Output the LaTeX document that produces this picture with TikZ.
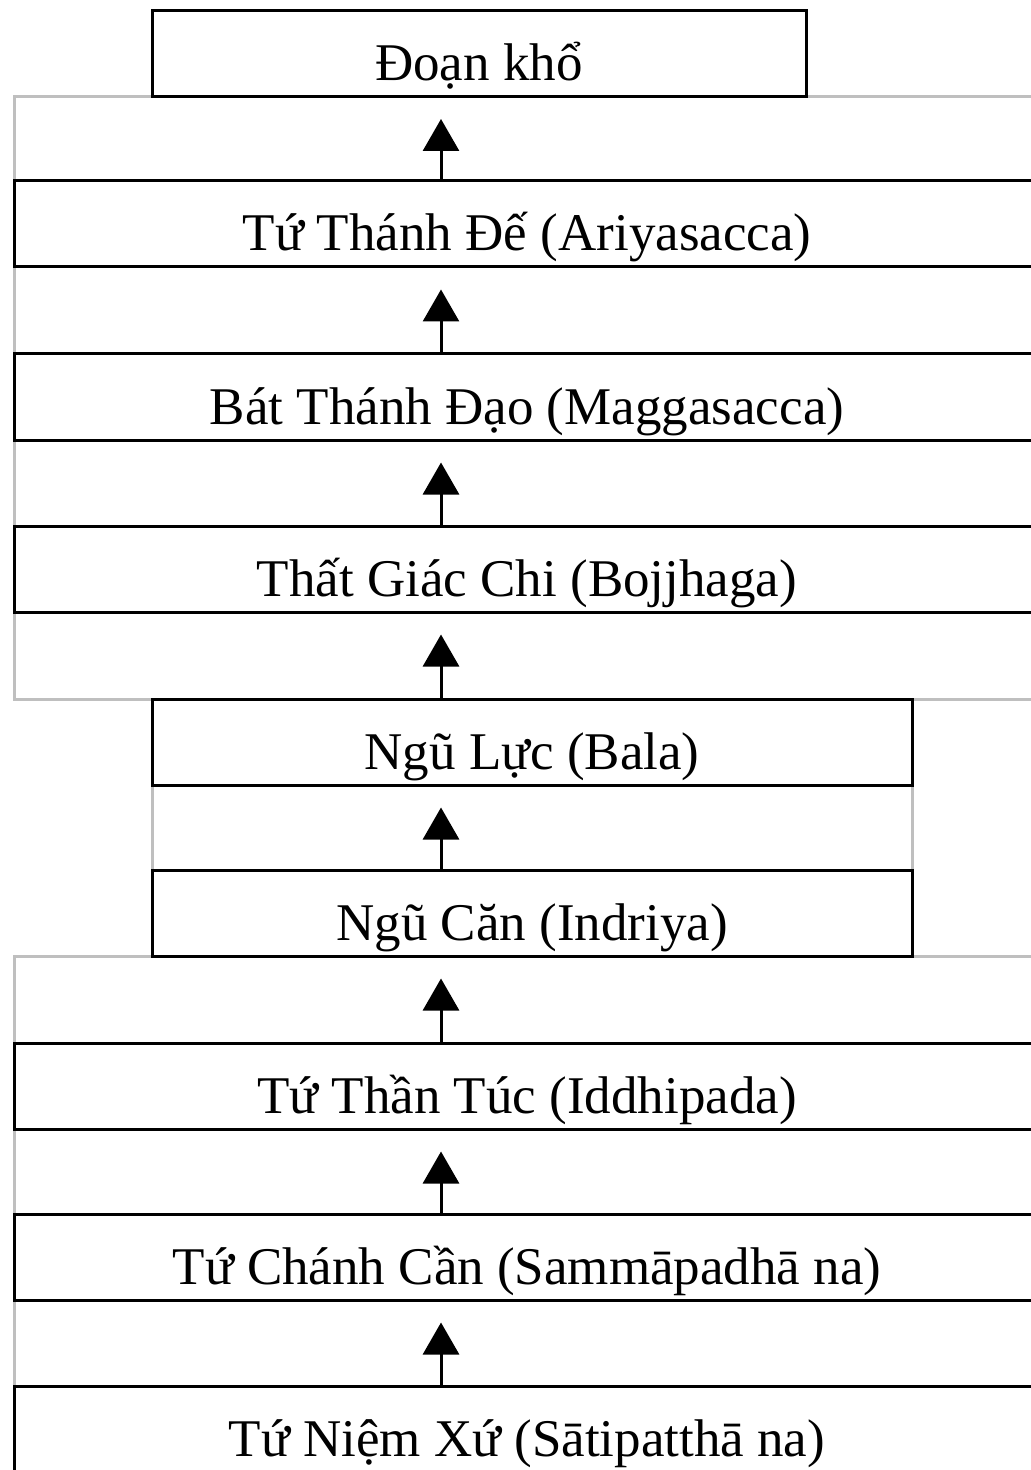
\documentclass[tikz,border=0pt]{standalone}
\usepackage{fontspec}
\setmainfont{Liberation Serif}
\usetikzlibrary{arrows.meta,calc}
\begin{document}
\begin{tikzpicture}[x=0.5pt,y=-0.5pt,
  box/.style={rectangle,draw=black,line width=1.5pt,fill=white,minimum height=43pt,inner sep=0pt,text height=27pt,text depth=0pt,font=\fontsize{26.5}{30}\selectfont},
  wide/.style={box,minimum width=513pt},
  narrow/.style={box,minimum width=380pt},
  frame/.style={draw=black!25,line width=1.5pt},
  up/.style={line width=1.5pt,-{Triangle[width=18pt,length=16pt]}}]
  \useasboundingbox (0,0) rectangle (1031,1470);
  \clip (0,0) rectangle (1031,1470);

  % grey table frames behind the rows
  \draw[frame] (14,97) rectangle (1040,699);
  \draw[frame] (152,699) rectangle (912,956);
  \draw[frame] (14,956) rectangle (1040,1480);

  \node[box,minimum width=327pt] (l0) at (479,53.5) {Đoạn khổ};
  \node[wide] (l1) at (527,224) {Tứ Thánh Đế (Ariyasacca)};
  \node[wide] (l2) at (527,397) {Bát Thánh Đạo (Maggasacca)};
  \node[wide] (l3) at (527,569) {Thất Giác Chi (Bojjhaga)};
  \node[narrow] (l4) at (532,742) {Ngũ Lực (Bala)};
  \node[narrow] (l5) at (532,913) {Ngũ Căn (Indriya)};
  \node[wide] (l6) at (527,1086) {Tứ Thần Túc (Iddhipada)};
  \node[wide] (l7) at (527,1257) {Tứ Chánh Cần (Sammāpadhā na)};
  \node[wide] (l8) at (527,1429) {Tứ Niệm Xứ (Sātipatthā na)};

  \coordinate (axis) at (441,0);

  \draw[up] (l1.north -| axis) -- ($(l0.south -| axis)+(0,21)$);
  \draw[up] (l2.north -| axis) -- ($(l1.south -| axis)+(0,21)$);
  \draw[up] (l3.north -| axis) -- ($(l2.south -| axis)+(0,21)$);
  \draw[up] (l4.north -| axis) -- ($(l3.south -| axis)+(0,21)$);
  \draw[up] (l5.north -| axis) -- ($(l4.south -| axis)+(0,21)$);
  \draw[up] (l6.north -| axis) -- ($(l5.south -| axis)+(0,21)$);
  \draw[up] (l7.north -| axis) -- ($(l6.south -| axis)+(0,21)$);
  \draw[up] (l8.north -| axis) -- ($(l7.south -| axis)+(0,21)$);
\end{tikzpicture}
\end{document}
